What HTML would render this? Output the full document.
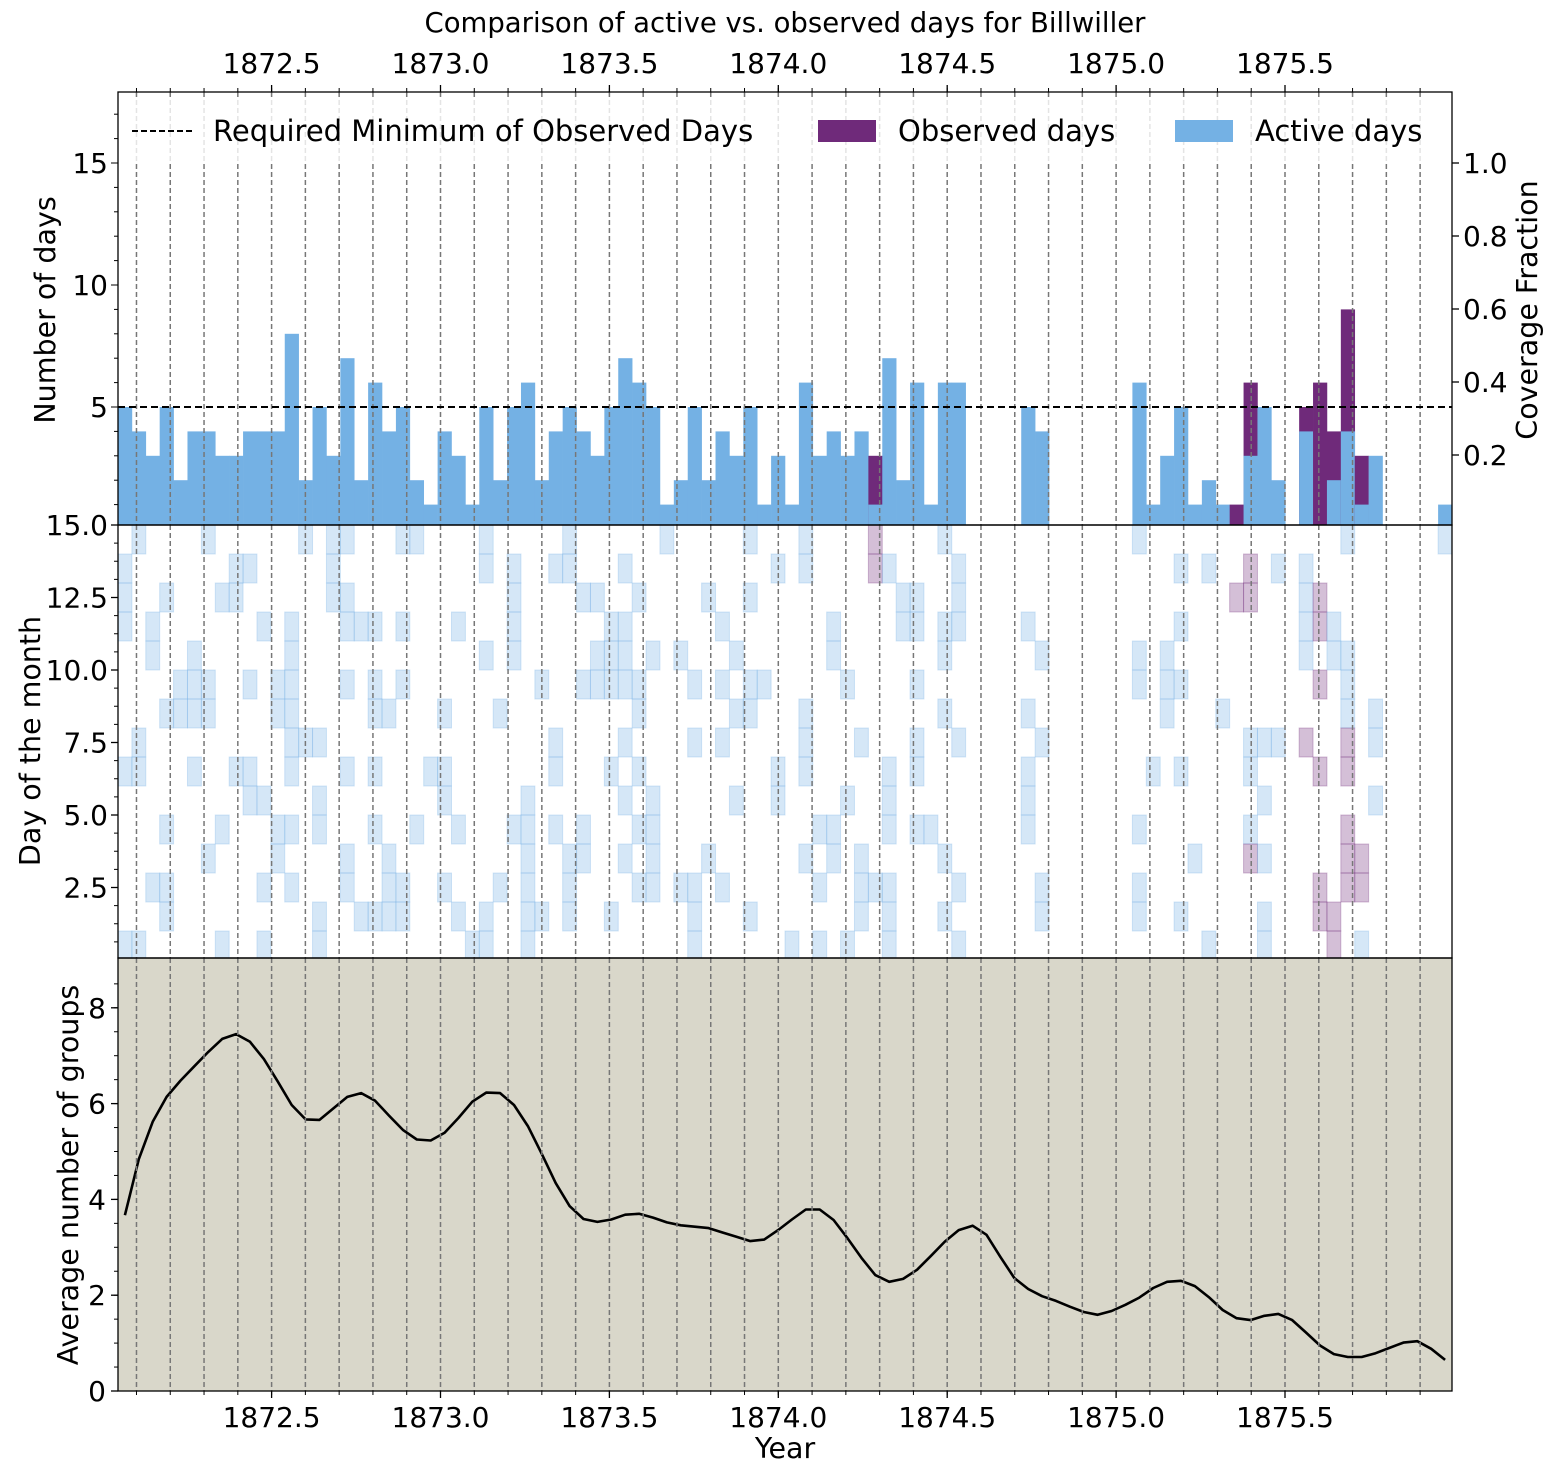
<!DOCTYPE html>
<html><head><meta charset="utf-8"><style>
html,body{margin:0;padding:0;background:#fff;}
svg{display:block;font-family:"DejaVu Sans","Liberation Sans",sans-serif;}
</style></head><body>
<svg id="chart" width="1551" height="1473" viewBox="0 0 1551 1473" xmlns="http://www.w3.org/2000/svg">
<rect width="1551" height="1473" fill="#fff"/>
<text x="785" y="32" font-size="27.5" text-anchor="middle">Comparison of active vs. observed days for Billwiller</text>
<g id="g-top"></g><g id="g-mid"></g><g id="g-bot"></g><g id="g-axes"></g>
<text transform="translate(55,310) rotate(-90)" font-size="28.5" text-anchor="middle">Number of days</text>
<text transform="translate(1537,310) rotate(-90)" font-size="28.5" text-anchor="middle">Coverage Fraction</text>
<text transform="translate(40,741) rotate(-90)" font-size="28.5" text-anchor="middle">Day of the month</text>
<text transform="translate(78,1175) rotate(-90)" font-size="28.5" text-anchor="middle">Average number of groups</text>
<text x="785" y="1458" font-size="28.5" text-anchor="middle">Year</text>
</svg>
<script>
// ---- data ----
const activeRows = [
[1,2,3,8,14],[0,7,8,14],[3,4,12],[2,6,10,12,13],[5,6],[4,5,6,8],[0,5,6,11],[2,10,14],[1,2,8],[1,5,8,9],
[3,9,12,14],[5,6,10,11],[3,4,5,6,7,8,10,12],[0,7],[7,9,10,13,14],[0,1,2],[0,2,3,5,8,11,12],[3,13],[3,5,6,8,10,13],[6,11,12,13],
[0,3,5,12,13],[0,10],[8],[6,8,9,12],[3,10,13],[14],[0,1,4,13,14],[6,12],[1,2,3,4,10],[9,10,11,12,13,14],
[5,13],[1,7,8,10],[0,1,11,12,13],[2,5,10,11],[2,4,5],[3,4,5,8,13],[1,3,4,5,7,9,11],[2,5,6,8,10,12],[4,9,10,11,12],[0],
[4,12],[5,7,12,13,14],[2,11],[3,5,7,12],[4,6,9],[0,2,5,6,13],[5],[1,8,9],[14],[0,1,6,7,8,11],
[10,12,14],[3,4,10,11],[5,9,14],[7,11,12,13],[12],[1,8,9,10,12,13,14],[2,3],[2,3,5,7,8,10],[10],[0,3,4,6,11,13],
[1,2,3,7,12,14],[],[],[],[],[3,6,8,9,10],[4,7,12,13],[],[],[],
[],[],[],[0,4,5,10,12,13],[8],[4,5,6],[1,3,5,8,13],[11],[1,14],[6],
[],[7,8,10],[7,9,11,13,14],[1,7],[],[1,2,3,4],[],[3,4],[0,4,5,6],[14],
[6,7,9],[],[],[],[],[0]
];
const inactiveObservedRows = {54:[0,1],80:[2],81:[1,2,11],85:[7],86:[2,3,5,8,12,13],87:[13,14],88:[7,8,10,11,12],89:[11,12]};
const avgGroups = [3.67,4.84,5.62,6.14,6.48,6.78,7.08,7.35,7.45,7.29,6.93,6.46,5.97,5.67,5.66,5.9,6.14,6.22,6.06,5.75,
5.45,5.25,5.23,5.39,5.7,6.04,6.23,6.22,5.97,5.53,4.95,4.34,3.86,3.59,3.53,3.58,3.68,3.7,3.62,3.52,
3.46,3.43,3.4,3.31,3.22,3.13,3.16,3.36,3.58,3.79,3.79,3.57,3.19,2.78,2.42,2.28,2.34,2.53,2.82,3.12,
3.36,3.45,3.26,2.8,2.36,2.13,1.98,1.88,1.76,1.65,1.59,1.67,1.8,1.95,2.15,2.28,2.3,2.19,1.96,1.69,
1.52,1.48,1.57,1.61,1.48,1.22,0.95,0.77,0.71,0.71,0.79,0.9,1.01,1.04,0.88,0.65];
const yearTicks = [1872.5,1873.0,1873.5,1874.0,1874.5,1875.0,1875.5];
const dayTicks = [2.5,5.0,7.5,10.0,12.5,15.0];
const countTicks = [5,10,15];
const coverageTicks = [0.2,0.4,0.6,0.8,1.0];
const groupTicks = [0,2,4,6,8];
const requiredMin = 5;

// ---- scales ----
const NS="http://www.w3.org/2000/svg";
const L=118,R=1452,NB=96,BW=(R-L)/NB;
const FS=28;
const xYear=y=>271.6+(y-1872.5)*337.8;
const xBin=i=>L+i*BW;
const yTop=v=>529-v*24.4;
const yCov=v=>528-v*365;
const yDay=v=>960-v*29;
const yGrp=v=>1391-v*47.9;
function mk(tag,attrs,parent){const e=document.createElementNS(NS,tag);for(const k in attrs)e.setAttribute(k,attrs[k]);parent.appendChild(e);return e;}
const gTop=document.getElementById('g-top'),gMid=document.getElementById('g-mid'),gBot=document.getElementById('g-bot'),gAx=document.getElementById('g-axes');

let bg=mk('rect',{x:L,y:958,width:R-L,height:433,fill:'#d9d7ca'},gBot);



for(let i=0;i<NB;i++){
  const act=activeRows[i].length;
  const obs=act+((inactiveObservedRows[i]||[]).length);
  if(obs>act){
    const r=mk('rect',{x:xBin(i),y:yTop(obs),width:BW+0.3,height:525-yTop(obs),fill:'#6f2a7a'},gTop);
    
    
  }
  if(act>0){
    const r=mk('rect',{x:xBin(i),y:yTop(act),width:BW+0.3,height:525-yTop(act),fill:'#74b1e4'},gTop);
    
    
  }
}
for(let i=0;i<NB;i++){
  activeRows[i].forEach(r=>{
    const v=15-r;
    const c=mk('rect',{x:xBin(i),y:yDay(v),width:BW,height:29,fill:'rgba(116,177,228,0.3)',stroke:'rgba(116,177,228,0.3)','stroke-width':1},gMid);
    
    
  });
  (inactiveObservedRows[i]||[]).forEach(r=>{
    const v=15-r;
    const c=mk('rect',{x:xBin(i),y:yDay(v),width:BW,height:29,fill:'rgba(111,42,122,0.3)',stroke:'rgba(111,42,122,0.3)','stroke-width':1},gMid);
    
    
  });
}
let d='';avgGroups.forEach((v,i)=>{d+=(i?'L':'M')+(xBin(i)+BW/2).toFixed(1)+','+yGrp(v).toFixed(1);});
const ln=mk('path',{d:d,fill:'none',stroke:'#000','stroke-width':2.6,'stroke-linejoin':'round'},gBot);



const cov=mk('rect',{x:L,y:958,width:R-L,height:4,fill:'#d9d7ca'},gMid);



for(let k=0;k<39;k++){
  const x=xYear(1872.1+k*0.1);
  if(x<L||x>R) continue;
  [[92,525],[525,958],[958,1391]].forEach(p=>{
    const l=mk('line',{x1:x,x2:x,y1:p[0],y2:p[1],stroke:'#777','stroke-width':1.5,'stroke-dasharray':'5,3'},gAx);
    
    
  });
}
const rm=mk('line',{x1:L,x2:R,y1:yTop(requiredMin),y2:yTop(requiredMin),stroke:'#000','stroke-width':2,'stroke-dasharray':'7,4'},gAx);



const lg=mk('g',{},gAx);


mk('rect',{x:124,y:100,width:1322,height:62,fill:'rgba(255,255,255,0.8)'},lg);
mk('line',{x1:132,x2:192,y1:131,y2:131,stroke:'#000','stroke-width':2,'stroke-dasharray':'6,3'},lg);
let t=mk('text',{x:213,y:141,'font-size':FS+1},lg);t.textContent='Required Minimum of Observed Days';


mk('rect',{x:818,y:120,width:58,height:22,fill:'#6f2a7a'},lg);
t=mk('text',{x:898,y:141,'font-size':FS+1},lg);t.textContent='Observed days';


mk('rect',{x:1175,y:120,width:58,height:22,fill:'#74b1e4'},lg);
t=mk('text',{x:1255,y:141,'font-size':FS+1},lg);t.textContent='Active days';



[[92,433],[525,433],[958,433]].forEach(p=>{
  const f=mk('rect',{x:L,y:p[0],width:R-L,height:p[1],fill:'none',stroke:'#000','stroke-width':1.3},gAx);
  
  
});
for(let k=0;k<39;k++){
  const yr=1872.1+k*0.1, x=xYear(yr);
  if(x<L||x>R) continue;
  mk('line',{x1:x,x2:x,y1:1391,y2:1395,stroke:'#000','stroke-width':1},gAx);
  mk('line',{x1:x,x2:x,y1:92,y2:88,stroke:'#000','stroke-width':1},gAx);
}
yearTicks.forEach(yr=>{
  const x=xYear(yr);
  mk('line',{x1:x,x2:x,y1:1391,y2:1398,stroke:'#000','stroke-width':1.3},gAx);
  mk('line',{x1:x,x2:x,y1:92,y2:85,stroke:'#000','stroke-width':1.3},gAx);
  let a=mk('text',{x:x,y:1427,'font-size':FS,'text-anchor':'middle'},gAx);a.textContent=yr.toFixed(1);
  
  
  a=mk('text',{x:x,y:73,'font-size':FS,'text-anchor':'middle'},gAx);a.textContent=yr.toFixed(1);
  
  
});
for(let v=1;v<=17;v++){mk('line',{x1:L,x2:L-(v%5?4:7),y1:yTop(v),y2:yTop(v),stroke:'#000','stroke-width':1},gAx);}
countTicks.forEach(v=>{const a=mk('text',{x:108,y:yTop(v)+10,'font-size':FS,'text-anchor':'end'},gAx);a.textContent=v;
  
  });
coverageTicks.forEach(v=>{mk('line',{x1:R,x2:R+7,y1:yCov(v),y2:yCov(v),stroke:'#000','stroke-width':1.3},gAx);
  const a=mk('text',{x:1463,y:yCov(v)+10,'font-size':FS},gAx);a.textContent=v.toFixed(1);
  
  });
for(let v=0.625;v<15;v+=0.625){mk('line',{x1:L,x2:L-4,y1:yDay(v),y2:yDay(v),stroke:'#000','stroke-width':1},gAx);}
dayTicks.forEach(v=>{mk('line',{x1:L,x2:L-7,y1:yDay(v),y2:yDay(v),stroke:'#000','stroke-width':1.3},gAx);
  const a=mk('text',{x:108,y:yDay(v)+10,'font-size':FS,'text-anchor':'end'},gAx);a.textContent=v.toFixed(1);
  
  });
for(let v=0.5;v<9;v+=0.5){mk('line',{x1:L,x2:L-4,y1:yGrp(v),y2:yGrp(v),stroke:'#000','stroke-width':1},gAx);}
groupTicks.forEach(v=>{mk('line',{x1:L,x2:L-7,y1:yGrp(v),y2:yGrp(v),stroke:'#000','stroke-width':1.3},gAx);
  const a=mk('text',{x:106,y:yGrp(v)+10,'font-size':FS,'text-anchor':'end'},gAx);a.textContent=v;
  
  });
</script>
</body></html>
